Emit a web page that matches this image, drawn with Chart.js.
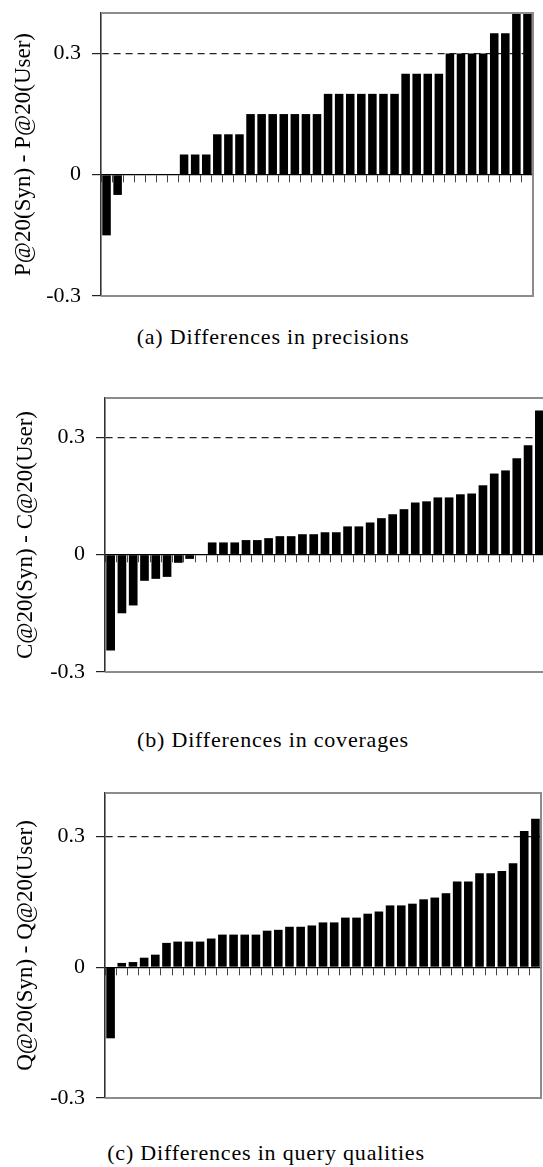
<!DOCTYPE html>
<html><head><meta charset="utf-8">
<script src="https://cdn.jsdelivr.net/npm/chart.js@4"></script>
<style>
html,body{margin:0;padding:0;background:#fff;overflow:hidden;width:543px;height:1167px;position:relative}
.wrap{position:absolute;left:0}
.cap{position:absolute;font-family:"Liberation Serif",serif;font-size:22px;letter-spacing:0.8px;white-space:nowrap;transform:translate(-50%,-50%);color:#000}
</style></head><body>
<div class="wrap" style="top:0"><canvas id="c1" width="543" height="312"></canvas></div>
<div class="wrap" style="top:385px"><canvas id="c2" width="548" height="300"></canvas></div>
<div class="wrap" style="top:780px"><canvas id="c3" width="543" height="330"></canvas></div>
<div class="cap" id="capA" style="left:273px;top:337px"></div>
<div class="cap" id="capB" style="left:273px;top:740px"></div>
<div class="cap" id="capC" style="left:266px;top:1153px"></div>
<script>
const categories = ['1','2','3','4','5','6','7','8','9','10','11','12','13','14','15','16','17','18','19','20',
  '21','22','23','24','25','26','27','28','29','30','31','32','33','34','35','36','37','38','39'];
const precisionDiff = [-0.15,-0.05,0,0,0,0,0,0.05,0.05,0.05,0.1,0.1,0.1,
  0.15,0.15,0.15,0.15,0.15,0.15,0.15,0.2,0.2,0.2,0.2,0.2,0.2,0.2,
  0.25,0.25,0.25,0.25,0.3,0.3,0.3,0.3,0.35,0.35,0.4,0.4];
const coverageDiff = [-0.245,-0.15,-0.13,-0.067,-0.062,-0.057,-0.021,-0.011,0,
  0.031,0.031,0.031,0.037,0.037,0.042,0.047,0.047,0.052,0.052,0.057,0.057,
  0.072,0.072,0.082,0.093,0.103,0.116,0.133,0.136,0.146,0.146,0.154,0.156,
  0.177,0.207,0.215,0.246,0.279,0.368];
const qualityDiff = [-0.163,0.010,0.012,0.022,0.029,0.056,0.059,0.059,0.059,0.066,
  0.075,0.075,0.075,0.075,0.084,0.086,0.093,0.093,0.096,0.103,0.103,0.114,0.114,
  0.123,0.128,0.142,0.142,0.146,0.156,0.160,0.170,0.197,0.197,0.216,0.216,0.221,
  0.239,0.313,0.341];
const yTickValues = [-0.3, 0, 0.3];
const yTickLabels = ['-0.3', '0', '0.3'];
const yMin = -0.3, yMax = 0.4, refLine = 0.3;
const yTitles = ['P@20(Syn) - P@20(User)', 'C@20(Syn) - C@20(User)', 'Q@20(Syn) - Q@20(User)'];
const captions = ['(a) Differences in precisions', '(b) Differences in coverages', '(c)  Differences in query qualities'];

document.getElementById('capA').textContent = captions[0];
document.getElementById('capB').textContent = captions[1];
document.getElementById('capC').textContent = captions[2];

const framePlugin = {
  id: 'frame',
  afterDatasetsDraw(chart) {
    const {ctx, chartArea: a} = chart;
    ctx.save();
    ctx.strokeStyle = '#8c8c8c';
    ctx.lineWidth = 2;
    ctx.beginPath();
    ctx.moveTo(a.left, a.top);
    ctx.lineTo(a.right, a.top);
    ctx.lineTo(a.right, a.bottom);
    ctx.lineTo(a.left, a.bottom);
    ctx.stroke();
    ctx.restore();
  }
};

const serif = "'Liberation Serif', serif";

function makeChart(id, values, title, g) {
  return new Chart(document.getElementById(id), {
    type: 'bar',
    data: {
      labels: categories,
      datasets: [{data: values, backgroundColor: '#000', borderWidth: 0,
        barPercentage: 0.77, categoryPercentage: 1}]
    },
    options: {
      responsive: false, animation: false, devicePixelRatio: 1,
      layout: {padding: {top: g.top, bottom: g.bottom, right: g.right, left: 0}},
      plugins: {legend: {display: false}, tooltip: {enabled: false}},
      scales: {
        x: {
          position: {y: 0},
          offset: true,
          grid: {offset: true, drawOnChartArea: false, drawTicks: true, tickLength: 7,
            tickColor: '#444', tickWidth: 1},
          border: {color: '#000', width: 1.3},
          ticks: {display: false},
          afterFit: s => { s.height = 0; s.paddingLeft = 0; s.paddingRight = 0; }
        },
        y: {
          min: yMin, max: yMax,
          afterBuildTicks: s => { s.ticks = yTickValues.map(v => ({value: v})); },
          ticks: {
            callback: v => yTickLabels[yTickValues.indexOf(v)],
            font: {family: serif, size: 22}, color: '#000', padding: 11
          },
          grid: {
            color: c => (c.tick && c.tick.value === refLine) ? '#222' : 'rgba(0,0,0,0)',
            lineWidth: 1.2, tickColor: '#222', tickLength: 9, tickWidth: 1.2,
            tickBorderDash: []
          },
          border: {color: '#333', width: 1.6, dash: [7, 5]},
          title: {display: true, text: title, font: {family: serif, size: 23}, color: '#000',
            padding: {top: g.titlePad, bottom: 0}},
          afterFit: s => { s.width = g.left; s.paddingTop = 0; s.paddingBottom = 0; }
        }
      }
    },
    plugins: [framePlugin]
  });
}

makeChart('c1', precisionDiff, yTitles[0], {top: 13, bottom: 16, right: 10, left: 101, titlePad: 10});
makeChart('c2', coverageDiff, yTitles[1], {top: 13, bottom: 13, right: 3, left: 105, titlePad: 12});
makeChart('c3', qualityDiff, yTitles[2], {top: 13, bottom: 12, right: 2, left: 105, titlePad: 12});
</script>
</body></html>
